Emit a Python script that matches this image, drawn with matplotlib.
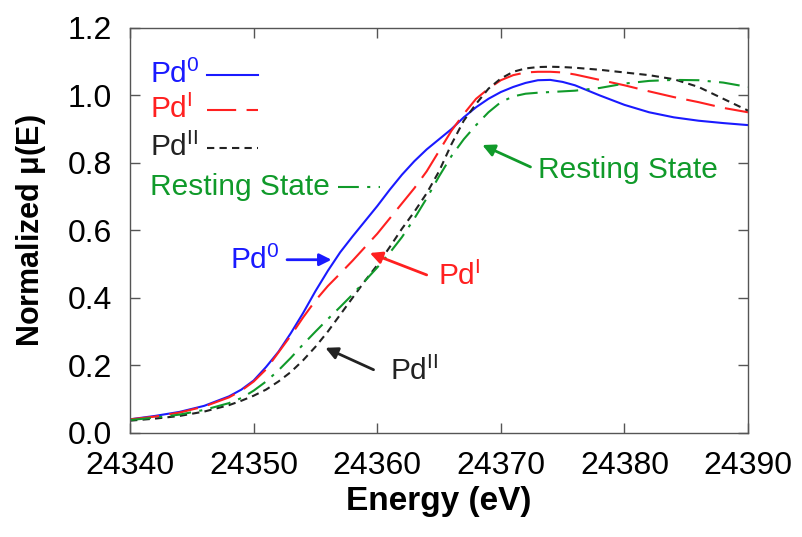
import matplotlib
matplotlib.use('Agg')
from matplotlib import pyplot as plt

plt.rcParams['font.family'] = ['Liberation Sans', 'DejaVu Sans']
plt.rcParams['mathtext.fontset'] = 'custom'
plt.rcParams['mathtext.rm'] = 'Liberation Sans'
plt.rcParams['mathtext.it'] = 'Liberation Sans:italic'
plt.rcParams['mathtext.bf'] = 'Liberation Sans:bold'

# energy grid (eV) and normalized mu(E)
energy = [24340, 24342, 24344, 24346, 24348, 24349, 24350, 24351, 24352, 24353,
          24354, 24355, 24356, 24357, 24358, 24359, 24360, 24361, 24362, 24363,
          24364, 24365, 24366, 24367, 24368, 24369, 24370, 24371, 24372, 24373,
          24374, 24375, 24376, 24378, 24380, 24382, 24384, 24386, 24388, 24390]

pd0 = [0.040, 0.050, 0.062, 0.080, 0.108, 0.128, 0.155, 0.195, 0.240, 0.295,
       0.355, 0.420, 0.480, 0.535, 0.582, 0.627, 0.672, 0.720, 0.765, 0.805,
       0.840, 0.870, 0.900, 0.935, 0.965, 0.990, 1.010, 1.025, 1.037, 1.045,
       1.046, 1.040, 1.030, 1.000, 0.972, 0.950, 0.935, 0.925, 0.918, 0.912]

pd1 = [0.040, 0.048, 0.060, 0.078, 0.105, 0.125, 0.152, 0.188, 0.238, 0.288,
       0.342, 0.392, 0.435, 0.472, 0.510, 0.550, 0.590, 0.635, 0.680, 0.725,
       0.775, 0.835, 0.895, 0.945, 0.990, 1.020, 1.045, 1.060, 1.068, 1.070,
       1.070, 1.068, 1.062, 1.046, 1.030, 1.012, 0.995, 0.980, 0.963, 0.950]

pd2 = [0.036, 0.042, 0.050, 0.063, 0.082, 0.095, 0.110, 0.128, 0.152, 0.180,
       0.215, 0.255, 0.300, 0.350, 0.400, 0.450, 0.497, 0.550, 0.605, 0.655,
       0.710, 0.775, 0.855, 0.925, 0.975, 1.020, 1.050, 1.070, 1.080, 1.084,
       1.085, 1.084, 1.082, 1.076, 1.068, 1.060, 1.048, 1.025, 0.990, 0.955]

resting = [0.038, 0.045, 0.054, 0.068, 0.088, 0.103, 0.125, 0.152, 0.185, 0.222,
           0.262, 0.300, 0.337, 0.373, 0.410, 0.450, 0.490, 0.533, 0.580, 0.635,
           0.695, 0.760, 0.820, 0.870, 0.912, 0.950, 0.980, 0.997, 1.005, 1.008,
           1.010, 1.012, 1.014, 1.022, 1.035, 1.043, 1.046, 1.045, 1.038, 1.025]

blue = '#1a1aff'
red = '#ff2020'
black = '#222222'
green = '#109a2a'

fig = plt.figure(figsize=(8.03, 5.37), dpi=100)
ax = fig.add_axes([0.162, 0.194, 0.7695, 0.754])

ax.plot(energy, pd0, color=blue, lw=1.5)
ax.plot(energy, pd1, color=red, lw=1.5, dashes=(14, 5))
ax.plot(energy, pd2, color=black, lw=1.5, dashes=(3.5, 2.5))
ax.plot(energy, resting, color=green, lw=1.5, dashes=(10, 4, 1.5, 4))

ax.set_xlim(24340, 24390)
ax.set_ylim(0, 1.2)
ax.set_xticks(range(24340, 24391, 10))
ax.set_yticks([0.0, 0.2, 0.4, 0.6, 0.8, 1.0, 1.2])
ax.set_yticklabels(['0.0', '0.2', '0.4', '0.6', '0.8', '1.0', '1.2'])
ax.tick_params(direction='in', length=7, width=1, color='#555555',
               top=True, right=True, labelsize=23)
ax.tick_params(axis='x', pad=13)
ax.tick_params(axis='y', pad=13)
for s in ax.spines.values():
    s.set_color('#555555')
    s.set_linewidth(1)

ax.set_xlabel('Energy (eV)', fontsize=24, fontweight='bold', labelpad=4)
ax.set_ylabel('Normalized $\\mathregular{\\mu}$(E)', fontsize=22,
              fontweight='bold', labelpad=14)

# legend, gnuplot style: text followed by a short line sample
fs = 21.5
rows = [('Pd$^0$', blue, None, 0.884, 0.125, 0.207),
        ('Pd$^{\\rm I}$', red, (14, 5), 0.798, 0.125, 0.207),
        ('Pd$^{\\rm II}$', black, (3.5, 2.5), 0.704, 0.125, 0.207),
        ('Resting State', green, (10, 4, 1.5, 4), 0.607, 0.337, 0.405)]
for label, col, dsh, y, x0, x1 in rows:
    ax.text(0.032, y, label, color=col, fontsize=fs, ha='left', va='center',
            transform=ax.transAxes)
    ln, = ax.plot([x0, x1], [y, y], color=col, lw=1.5, transform=ax.transAxes)
    if dsh is not None:
        ln.set_dashes(dsh)

# arrows with labels
arrow_kw = dict(arrowstyle='-|>', lw=2, mutation_scale=18, shrinkA=0, shrinkB=0)
ax.text(24350.1, 0.51, 'Pd$^0$', color=blue, fontsize=fs, ha='center', va='center')
ax.annotate('', xy=(24356.3, 0.513), xytext=(24352.7, 0.513),
            arrowprops=dict(color=blue, **arrow_kw))

ax.text(24366.6, 0.465, 'Pd$^{\\rm I}$', color=red, fontsize=fs, ha='center', va='center')
ax.annotate('', xy=(24359.4, 0.533), xytext=(24364.0, 0.468),
            arrowprops=dict(color=red, **arrow_kw))

ax.text(24363.0, 0.181, 'Pd$^{\\rm II}$', color=black, fontsize=fs, ha='center', va='center')
ax.annotate('', xy=(24355.8, 0.252), xytext=(24359.7, 0.187),
            arrowprops=dict(color=black, **arrow_kw))

ax.text(24380.3, 0.779, 'Resting State', color=green, fontsize=fs, ha='center', va='center')
ax.annotate('', xy=(24368.5, 0.853), xytext=(24372.4, 0.788),
            arrowprops=dict(color=green, **arrow_kw))

fig.savefig('out.png', dpi=100)
